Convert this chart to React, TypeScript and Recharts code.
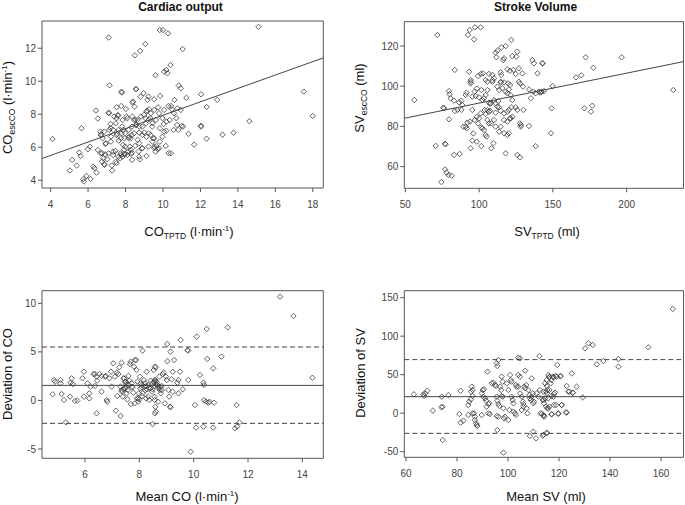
import React from 'react';
import { ScatterChart, Scatter, XAxis, YAxis, ReferenceLine, ReferenceArea } from 'recharts';

const FONT = '"Liberation Sans", Arial, Helvetica, sans-serif';
type Pt = [number, number];

// Cardiac output: [CO_TPTD, CO_esCCO]
const coPairs: Pt[] = [
  [4.1, 6.5], [7.1, 12.65], [9.06, 12.25], [8.78, 11.84], [8.5, 11.57], [9.83, 13.1], [10.0, 13.1], [10.27, 12.9],
  [11.05, 11.95], [15.1, 13.3], [7.15, 9.75], [9.6, 10.36], [10.4, 10.98], [10.18, 10.68], [10.06, 10.58], [10.24, 10.48],
  [10.84, 9.74], [10.95, 9.57], [7.78, 9.37], [7.8, 9.31], [8.55, 9.53], [8.57, 9.52], [8.96, 9.27], [8.8, 9.07],
  [9.22, 9.07], [9.85, 9.11], [9.53, 8.91], [10.61, 8.87], [8.37, 8.71], [9.17, 8.87], [6.42, 8.22], [6.52, 7.74],
  [5.65, 7.15], [11.25, 9.0], [12.03, 9.21], [12.89, 8.87], [12.33, 8.44], [17.52, 9.37], [18.0, 7.9], [11.07, 7.25],
  [12.03, 7.25], [12.03, 7.3], [11.36, 6.81], [11.66, 6.16], [12.33, 6.52], [13.18, 6.76], [13.77, 6.88], [14.61, 7.58],
  [5.03, 4.59], [5.15, 5.23], [5.39, 4.89], [5.53, 5.68], [5.6, 5.47], [5.74, 4.06], [5.78, 3.92], [5.92, 4.26],
  [5.99, 5.88], [6.1, 6.04], [6.13, 4.08], [6.27, 4.83], [6.34, 4.73], [6.45, 4.46], [6.52, 5.84], [6.66, 6.95],
  [6.7, 6.79], [6.75, 5.64], [6.88, 4.93], [6.93, 6.2], [7.02, 5.27], [7.1, 8.1], [7.2, 7.41], [7.2, 7.15],
  [7.34, 5.53], [7.29, 4.59], [7.46, 5.78], [7.52, 5.03], [7.55, 6.81], [7.59, 7.96], [7.6, 7.9], [7.64, 6.4],
  [7.7, 5.33], [7.77, 5.53], [7.82, 7.25], [7.87, 7.05], [7.94, 5.6], [7.96, 5.55], [7.87, 6.14], [8.05, 7.86],
  [8.17, 6.55], [8.23, 6.04], [8.3, 5.6], [8.35, 5.23], [8.4, 8.77], [8.48, 8.46], [8.53, 7.66], [8.58, 7.35],
  [8.65, 6.45], [8.7, 5.74], [8.76, 5.27], [8.88, 5.94], [9.0, 6.89], [9.06, 7.76], [9.15, 8.22], [9.24, 6.85],
  [9.33, 7.76], [9.42, 7.25], [9.47, 6.55], [9.54, 6.04], [9.6, 5.74], [9.72, 5.88], [9.83, 6.34], [10.3, 5.64],
  [10.04, 7.41], [10.18, 7.0], [10.43, 8.5], [10.57, 7.05], [10.75, 7.35], [10.71, 7.76],
  [7.11, 8.06], [7.52, 8.42], [7.77, 8.5], [8.02, 8.32], [7.39, 7.86], [7.52, 7.76], [7.48, 7.45], [7.84, 7.65],
  [8.1, 7.76], [8.37, 7.86], [8.46, 7.65], [8.64, 7.65], [8.82, 7.86], [8.99, 7.96], [9.12, 8.16], [9.26, 8.3],
  [9.35, 8.06], [9.53, 8.26], [9.74, 8.42], [10.06, 8.26], [10.29, 8.5], [10.47, 8.3], [10.59, 8.06], [10.77, 8.36],
  [10.95, 8.26], [9.79, 8.06], [9.97, 7.76], [10.18, 7.55], [10.36, 7.65], [9.62, 7.65], [9.44, 7.45], [9.26, 7.69],
  [9.08, 7.45], [8.9, 7.25], [8.73, 7.25], [8.55, 7.35], [8.34, 7.25], [8.16, 7.05], [7.98, 6.85], [7.8, 6.85],
  [7.62, 7.05], [7.34, 7.05], [7.13, 7.05], [6.86, 6.95], [6.68, 6.74], [6.77, 6.54], [6.95, 6.24], [7.22, 6.64],
  [7.52, 6.74], [7.75, 6.54], [7.93, 6.54], [8.19, 6.64], [8.34, 6.74], [8.28, 6.54], [8.46, 6.85], [8.73, 6.89],
  [8.9, 6.74], [9.12, 6.64], [9.35, 6.74], [9.53, 6.54], [9.44, 6.34], [9.65, 6.08], [9.22, 6.04], [8.9, 5.94],
  [8.73, 6.24], [8.51, 6.08], [8.28, 5.84], [8.16, 5.74], [7.98, 6.04], [7.93, 5.84], [7.75, 5.64], [7.62, 5.43],
  [7.48, 5.13], [7.84, 5.43], [8.1, 5.53], [8.34, 5.67], [8.73, 5.43], [9.12, 5.47], [9.53, 5.94], [9.79, 5.94],
  [10.15, 6.08], [10.42, 5.64], [10.82, 7.05], [11.0, 7.29], [10.06, 6.95], [9.83, 7.15], [9.97, 6.64], [7.22, 6.34],
  [7.34, 5.73], [7.09, 5.63], [6.91, 5.57], [6.68, 5.63], [6.81, 5.33], [6.74, 5.13], [6.86, 4.97], [7.27, 4.89],
];

// Stroke volume: [SV_TPTD, SV_esCCO]
const svPairs: Pt[] = [
  [71.7, 125.5], [92.5, 125.5], [93.6, 128], [97.2, 129.3], [101, 129.3], [96.5, 123.3], [56.1, 93.1], [76.2, 89],
  [75.8, 89.3], [79.6, 97.6], [80, 96], [80.7, 94], [83, 92.8], [79.6, 83.5], [83.5, 108.1], [70.6, 70.3],
  [76.9, 71.4], [77.3, 71.1], [76.9, 58.6], [78, 57], [79.2, 55.8], [81.4, 55.5], [74.4, 52.3], [83, 65.8],
  [86.8, 66.3], [89.3, 79.9], [91.6, 79], [93.2, 107.2], [94.3, 103.1], [94.3, 102.2], [94.3, 101.4], [91.4, 96.8],
  [90.9, 95.6], [88, 92.8], [86.4, 92], [85.3, 88.2], [83.5, 87.7], [88, 88.2], [95.4, 88.2], [97.7, 95.1],
  [100, 94.5], [102.2, 93.1], [103.3, 94], [97, 97.3], [98.4, 98.8], [101.5, 98.1], [99.3, 105.1], [101.1, 106.1],
  [102.6, 106.4], [104.4, 103.1], [105.6, 102.2], [106.7, 106.1], [109, 105.6], [110.1, 103.9], [111.2, 116.7], [112.4, 117.7],
  [111.7, 114.4], [114.6, 106.9], [115, 105.6], [116.9, 113.9], [116.4, 113], [118, 120], [121.8, 123], [115.1, 119.3],
  [125.9, 117.2], [125.2, 114.7], [122.5, 115], [119.1, 108.4], [120.9, 107.7], [123.2, 108.1], [124.8, 106.1], [127, 108.9],
  [129.3, 106.4], [116.9, 101.9], [119.6, 101.4], [120.9, 100.6], [114.6, 101.9], [114.8, 102.1], [112.4, 99.8], [113.5, 98.1],
  [115.7, 99], [118, 97.3], [119.1, 96.5], [120.2, 98.4], [121.4, 95.6], [122.5, 93.1], [127, 102.2], [127.7, 101.4],
  [129.7, 99.8], [133.8, 98.4], [136.7, 97.3], [138.3, 96.5], [140.6, 97.3], [142.2, 97.1], [135, 94], [137.2, 111.4],
  [136.1, 113], [139.5, 106.4], [142.8, 111.4], [138.3, 70.2], [107.8, 91.5], [105.6, 88.2], [106.7, 87.3], [107.4, 87.8],
  [103.8, 88.2], [104.4, 86.2], [110.1, 93.1], [111.2, 91.5], [113, 92.6], [114.6, 87.8], [116.9, 86.5], [119.1, 87.3],
  [120.2, 88.2], [121.8, 89.5], [116.9, 83.2], [119.1, 82.4], [120.9, 84], [114.6, 79.9], [113.5, 77.4], [116.9, 76.6],
  [119.1, 75.7], [120.2, 76.6], [111.2, 79.9], [110.1, 83.2], [108.3, 81.5], [101.1, 86.5], [100, 84], [99.3, 81.5],
  [101.5, 79.5], [102.2, 79], [98.4, 84.8], [97, 83.2], [96.1, 76.5], [95.4, 72.9], [94.3, 69.1], [98.4, 72.4],
  [101.5, 70.2], [103.3, 78.2], [104.4, 75.7], [105.1, 74.9], [105.6, 83.2], [106.7, 81.5], [90.9, 79.9], [108.3, 69.1],
  [109.6, 71.6], [118, 66.6], [125.9, 65.8], [127.7, 64.6], [128.2, 80.7], [128.2, 79.9], [127.7, 81.5], [133.8, 80.2],
  [130, 88.2], [125.9, 88.2], [124.8, 89.5], [122.5, 84.8], [121.4, 84], [109, 103], [109, 102.2], [104.4, 95.6],
  [105.6, 98.1], [106.7, 91.8], [107.4, 91.2], [112.4, 89.8], [113.5, 89.5], [111.2, 86.8], [93.8, 82.4], [92, 81.9],
  [88.6, 90.6], [95.4, 94.8], [143.1, 111.4], [172.2, 114.4], [196.6, 114.4], [177.4, 109.2], [169.3, 105.4], [165.7, 104.4],
  [149.8, 100.1], [141.3, 96.8], [142.4, 97.3], [144, 97.6], [231.6, 98.1], [149.2, 89], [171.3, 89], [176.7, 90.3],
  [175.8, 87.3], [148.7, 76.6],
];

// Bland-Altman, cardiac output: [mean CO, deviation]
const coBland: Pt[] = [
  [4.81, 0.63], [4.86, 2.1], [4.9, 1.93], [5.1, 2.1], [5.14, 0.66], [5.1, 1.76], [5.23, 0.04], [5.3, -2.26],
  [5.45, 0.39], [5.51, 2.28], [5.47, 1.83], [5.55, 1.69], [5.63, -0.06], [5.72, -0.02], [5.91, 2.28], [5.96, 2.96],
  [5.96, 0.39], [6.09, 1.76], [6.16, 0.21], [6.16, 0.73], [6.21, 1.42], [6.31, 2.72], [6.37, 2.72], [6.43, 2.45],
  [6.37, 1.49], [6.45, 2.04], [6.43, -1.33], [6.53, 2.72], [6.61, 2.52], [6.61, 0.9], [6.74, 2.45], [6.77, 2.52],
  [6.8, 0.04], [6.82, -0.13], [6.9, 2.28], [6.96, 2.96], [7.04, 3.82], [6.98, 1.42], [7.1, 2.45], [7.14, -1.06],
  [7.17, 2.86], [7.23, 2.72], [7.19, 0.46], [7.26, 3.41], [7.31, -1.6], [7.31, 1.42], [7.35, 1.07], [7.39, 0.39],
  [7.35, 3.89], [7.44, 2.28], [7.47, 1.93], [7.51, 1.42], [7.51, 1.69], [7.53, 0.73], [7.56, 0.11], [7.6, 2.52],
  [7.63, 2.04], [7.66, 3.75], [7.68, 3.99], [7.69, -0.37], [7.72, 1.76], [7.75, 1.35], [7.78, 0.8], [7.8, 3.48],
  [7.84, 4.16], [7.88, 4.16], [7.9, 3.13], [7.93, 1.93], [7.96, 0.21], [8.0, 0.11], [7.96, -0.13], [8.02, 2.45],
  [8.05, 1.76], [8.09, 1.35], [8.12, 0.73], [8.12, 5.13], [8.17, 2.1], [8.21, 1.76], [8.25, 1.49], [8.27, 2.96],
  [8.29, 1.14], [8.33, 0.39], [8.37, 0.04], [8.42, 2.04], [8.45, 1.59], [8.49, 1.14], [8.52, 1.42], [8.49, -2.43],
  [8.53, 3.13], [8.57, 3.48], [8.61, 3.41], [8.57, 2.1], [8.61, 1.93], [8.64, 1.83], [8.57, -1.33], [8.61, -1.16],
  [8.57, 0.04], [8.66, 1.59], [8.7, 1.42], [8.74, 2.45], [8.76, 1.07], [8.79, 0.73], [8.82, 1.49], [8.86, 2.72],
  [8.9, 2.86], [8.94, -0.3], [8.98, 2.45], [9.01, 2.1], [9.03, 4.03], [9.03, 5.81], [9.07, 1.07], [9.1, 0.39],
  [9.13, -0.64], [9.15, -0.71], [9.15, 5.02], [9.19, 2.17], [9.23, 2.96], [9.28, 4.16], [9.23, 0.9], [9.4, 1.83],
  [9.44, 2.1], [9.5, 2.96], [9.44, 0.73], [9.52, 6.22], [9.6, 1.14], [9.77, 5.19], [9.8, 5.13], [9.8, 2.1],
  [9.89, -5.28], [10.11, 6.57], [10.05, -0.47], [10.09, -2.8], [10.23, 2.62], [10.36, 1.83], [10.38, 1.59], [10.36, -2.7],
  [10.38, 0.04], [10.45, -0.13], [10.54, -0.23], [10.58, -0.13], [10.48, 7.36], [10.5, 4.27], [10.72, 3.31], [10.75, -0.23],
  [10.72, -2.8], [11.02, 4.51], [11.25, 7.53], [11.58, -0.47], [11.52, -2.87], [11.6, -2.7], [11.68, -2.26], [13.18, 10.69],
  [13.67, 8.7], [14.37, 2.34], [7.42, 2.27], [7.51, 1.93], [7.61, 1.59], [7.73, 1.41], [7.48, 1.24], [7.58, 1.07],
  [7.36, 0.9], [7.42, 1.14], [8.1, 1.59], [8.2, 1.41], [8.04, 1.24], [8.22, 1.07], [8.34, 1.59], [8.4, 1.24],
  [7.98, 0.73], [8.1, 0.45], [8.25, 0.21], [7.91, 0.21], [7.83, -0.3], [8.53, 1.93], [8.59, 2.1], [8.65, 1.59],
  [8.71, 1.24], [8.77, 1.41], [8.83, 1.07], [8.47, 0.9], [8.56, 0.38], [8.69, -0.13], [8.59, -0.65],
];

// Bland-Altman, stroke volume: [mean SV, deviation]
const svBland: Pt[] = [
  [63.1, 24.5], [66.8, 24.5], [67.1, 22.3], [67.5, 25.7], [68.4, 29.2], [70.5, 3.2], [74, 21.4], [74.3, 8.4],
  [73.9, 7.6], [74.4, -34.9], [76.6, 23.6], [80.9, -1.1], [81.4, 29.2], [81.4, -12.3], [82.5, -9.7], [84.4, 10.6],
  [84.8, 14.9], [85.4, 18], [85.8, 34.4], [86.1, 30.1], [85.5, 27.9], [84.4, -2.4], [86.1, -0.2], [86.7, -0.2],
  [87, -4.6], [87, -8.9], [87.5, -13.2], [87.7, -15.4], [88, -16.7], [86.1, 22.3], [89.7, 25.7], [90.1, 30.1],
  [90.6, 31], [90.3, 21.4], [91, 19.3], [91.4, 16.2], [89.7, -2.4], [91.6, 8.4], [92.3, 11.9], [92.7, 12.8],
  [91.9, 53.9], [92.3, -0.2], [92.9, -1.1], [93.6, 38.7], [94.3, 39.6], [94.9, 36.6], [95.3, 35.3], [95.6, 64.7],
  [95.8, 61.2], [96.2, 69], [95.6, 21.4], [95.8, 16.2], [96.2, 11.9], [96.6, 9.3], [95.6, -3.7], [96.2, -4.6],
  [95.8, -21.9], [96.9, 34.4], [97.3, 30.1], [97.5, 47.4], [97.9, 40.9], [97.5, 22.3], [97.9, 21.4], [98.2, 6.3],
  [98.8, -4.6], [98.4, -6.7], [98.2, -51.3], [99.5, 38.7], [100.1, 30.1], [100.1, -8.9], [100.5, 4.1], [100.8, 49.6],
  [101.1, 43.1], [101.4, 40.9], [101.4, 21.4], [101.8, 17.1], [102.1, 12.8], [102.1, 2], [102.7, -0.2], [103.1, -2.4],
  [103.1, 36.6], [103.4, 34.4], [104, 34.4], [104, 72.1], [104.7, 71.2], [104, 49.6], [104.7, 47.4], [104.7, 25.7],
  [105.4, 21.4], [105.8, 15], [106, 11.9], [106.3, 34.4], [106.7, 32.3], [107.1, 36.6], [106.7, 55.2], [105.4, 4.1],
  [106, 8.4], [107.3, 6.3], [107.6, -0.2], [108, 30.1], [108.4, 23.6], [108.6, 19.3], [108.9, 17.1], [109.3, 21.4],
  [109.7, 25.7], [109.9, 12.8], [110.2, 14.9], [109.3, 45.2], [108.6, -29.7], [109.9, -24], [111, -32.7], [111.2, 25.7],
  [111.9, 21.4], [112.5, 30.1], [112.3, 74.2], [112.8, -0.2], [113.9, -2.4], [114.1, -4.6], [113.9, -28.4], [115.2, -25.3],
  [114.1, 17.1], [114.5, 19.3], [114.9, 28.1], [115.2, 35.3], [115.4, 30.1], [115.8, 49.6], [116.2, 47.4], [115.8, 6.3],
  [116.2, 8.4], [116.7, 38.7], [117.1, 43.1], [117.5, 47.4], [117.8, 21.4], [117.1, -1.1], [118.4, 26.6], [118.8, 10.6],
  [119.1, 47.4], [119.3, 62.6], [119.7, -0.2], [120.4, 47.8], [121, 10.6], [123, 35.3], [124, 27.9], [125, 51.7],
  [125.4, 26.6], [122.7, 1.1], [126.9, 34.4], [129.3, 20.5], [130.2, 84.2], [131.5, 90.7], [133.2, 88.5], [134.8, 63.4],
  [137.4, 67.7], [143.3, 70.3], [143.3, 60.4], [155, 85.5], [164.6, 135.3], [114.5, 38.8], [115.2, 43.1], [116.2, 46.6],
  [117.8, 46.6], [118.7, 48.3], [120.7, 48.3], [113.9, 28], [115.2, 25.8], [116.2, 30.1], [118, 25], [117.1, 22.3],
  [113.6, 17.1], [114.1, 12.8], [114.9, 8.5], [115.4, 6.3], [115.8, 19.3], [118, 10.6], [121.05, 10.6], [123, 0.7],
  [119.7, -1], [117.1, -1.5], [114.1, -3.6], [113.2, -1], [115.2, -26.1], [113.6, -29.2], [123.7, 28], [125.4, 26.7],
];

// Regression lines (intercept, slope)
const coFit = { a: 3.88, b: 0.406 };
const svFit = { a: 76.7, b: 0.149 };
// Bland-Altman bias and limits of agreement
const coLimits = { mean: 1.55, upper: 5.5, lower: -2.36 };
const svLimits = { mean: 21.4, upper: 69.5, lower: -26.2 };

const coXTicks = [4, 6, 8, 10, 12, 14, 16, 18];
const coYTicks = [4, 6, 8, 10, 12];
const svXTicks = [50, 100, 150, 200];
const svYTicks = [60, 80, 100, 120];
const baCoXTicks = [6, 8, 10, 12, 14];
const baCoYTicks = [-5, 0, 5, 10];
const baSvXTicks = [60, 80, 100, 120, 140, 160];
const baSvYTicks = [-50, 0, 50, 100, 150];

const toObj = (a: Pt[]) => a.map(([x, y]) => ({ x, y }));

const Diamond = (props: any) => {
  const { cx, cy } = props;
  if (cx == null || cy == null) return null;
  const r = 2.7;
  return (
    <path
      d={`M${cx},${cy - r}L${cx + r},${cy}L${cx},${cy + r}L${cx - r},${cy}Z`}
      fill="none"
      stroke="#3c3c3c"
      strokeWidth={0.8}
    />
  );
};

const YW = 34;
const XH = 30;

type PanelProps = {
  left: number; top: number; width: number; height: number;
  plot: { x0: number; x1: number; y0: number; y1: number };
  xDomain: [number, number]; yDomain: [number, number];
  xTicks: number[]; yTicks: number[];
  data: Pt[];
  fit?: { a: number; b: number };
  limits?: { mean: number; upper: number; lower: number };
};

const tickStyle = { fontSize: 10, fill: '#444', fontFamily: FONT };

function Panel(p: PanelProps) {
  const margin = {
    left: p.plot.x0 - p.left - YW,
    top: p.plot.y0 - p.top,
    right: p.left + p.width - p.plot.x1,
    bottom: p.top + p.height - p.plot.y1 - XH,
  };
  const [xa, xb] = p.xDomain;
  const [ya, yb] = p.yDomain;
  return (
    <div style={{ position: 'absolute', left: p.left, top: p.top }}>
      <ScatterChart width={p.width} height={p.height} margin={margin}>
        <XAxis
          type="number"
          dataKey="x"
          domain={p.xDomain}
          ticks={p.xTicks}
          interval={0}
          allowDataOverflow
          axisLine={false}
          tickLine={{ stroke: '#555' }}
          tickSize={4}
          tickMargin={9}
          height={XH}
          tick={tickStyle}
        />
        <YAxis
          type="number"
          dataKey="y"
          domain={p.yDomain}
          ticks={p.yTicks}
          interval={0}
          allowDataOverflow
          axisLine={false}
          tickLine={{ stroke: '#555' }}
          tickSize={4}
          tickMargin={2}
          width={YW}
          tick={tickStyle}
        />
        <ReferenceArea x1={xa} x2={xb} y1={ya} y2={yb} fill="none" stroke="#555" strokeWidth={1} ifOverflow="visible" />
        {p.fit && (
          <ReferenceLine
            segment={[{ x: xa, y: p.fit.a + p.fit.b * xa }, { x: xb, y: p.fit.a + p.fit.b * xb }]}
            stroke="#444"
            strokeWidth={1}
            ifOverflow="visible"
          />
        )}
        {p.limits && <ReferenceLine y={p.limits.mean} stroke="#444" strokeWidth={1} />}
        {p.limits && <ReferenceLine y={p.limits.upper} stroke="#444" strokeWidth={1} strokeDasharray="5 3" />}
        {p.limits && <ReferenceLine y={p.limits.lower} stroke="#444" strokeWidth={1} strokeDasharray="5 3" />}
        <Scatter data={toObj(p.data)} shape={Diamond} isAnimationActive={false} />
      </ScatterChart>
    </div>
  );
}

export default function App() {
  const axisT = { fontSize: 13, fill: '#111', fontFamily: FONT } as any;
  return (
    <div style={{ position: 'absolute', left: 0, top: 0, width: 685, height: 505, background: '#fff', overflow: 'hidden' }}>
      <Panel left={0} top={0} width={345} height={250}
        plot={{ x0: 42, x1: 323.3, y0: 21, y1: 188 }}
        xDomain={[3.54, 18.56]} yDomain={[3.53, 13.65]}
        xTicks={coXTicks} yTicks={coYTicks} data={coPairs} fit={coFit} />
      <Panel left={345} top={0} width={340} height={250}
        plot={{ x0: 404.3, x1: 683.5, y0: 21.7, y1: 188.3 }}
        xDomain={[49.3, 238.5]} yDomain={[49.2, 132.1]}
        xTicks={svXTicks} yTicks={svYTicks} data={svPairs} fit={svFit} />
      <Panel left={0} top={250} width={345} height={255}
        plot={{ x0: 42, x1: 323.3, y0: 290.7, y1: 458.3 }}
        xDomain={[4.42, 14.77]} yDomain={[-5.96, 11.3]}
        xTicks={baCoXTicks} yTicks={baCoYTicks} data={coBland} limits={coLimits} />
      <Panel left={345} top={250} width={340} height={255}
        plot={{ x0: 404.3, x1: 683.5, y0: 290.7, y1: 457.3 }}
        xDomain={[59.33, 168.8]} yDomain={[-57.3, 159]}
        xTicks={baSvXTicks} yTicks={baSvYTicks} data={svBland} limits={svLimits} />
      <svg width={685} height={505} style={{ position: 'absolute', left: 0, top: 0, pointerEvents: 'none' }}>
        <text x={180.5} y={11} textAnchor="middle" fontSize={12} fontWeight="bold" fill="#111" fontFamily={FONT}>Cardiac output</text>
        <text x={535.5} y={11} textAnchor="middle" fontSize={12} fontWeight="bold" fill="#111" fontFamily={FONT}>Stroke Volume</text>

        <text x={189} y={236} textAnchor="middle" {...axisT}>
          CO<tspan fontSize={8.5} dy={3}>TPTD</tspan><tspan dy={-3}> (l·min</tspan><tspan fontSize={8} dy={-5}>-1</tspan><tspan dy={5}>)</tspan>
        </text>
        <text x={547} y={236} textAnchor="middle" {...axisT}>
          SV<tspan fontSize={8.5} dy={3}>TPTD</tspan><tspan dy={-3}> (ml)</tspan>
        </text>
        <text x={187} y={501} textAnchor="middle" {...axisT}>
          Mean CO (l·min<tspan fontSize={8} dy={-5}>-1</tspan><tspan dy={5}>)</tspan>
        </text>
        <text x={546} y={501} textAnchor="middle" {...axisT}>Mean SV (ml)</text>

        <text transform="translate(12,107.5) rotate(-90)" textAnchor="middle" {...axisT}>
          CO<tspan fontSize={8.5} dy={3}>escCO</tspan><tspan dy={-3}> (l·min</tspan><tspan fontSize={8} dy={-5}>-1</tspan><tspan dy={5}>)</tspan>
        </text>
        <text transform="translate(364,98) rotate(-90)" textAnchor="middle" {...axisT}>
          SV<tspan fontSize={8.5} dy={3}>escCO</tspan><tspan dy={-3}> (ml)</tspan>
        </text>
        <text transform="translate(11.5,374) rotate(-90)" textAnchor="middle" {...axisT}>Deviation of CO</text>
        <text transform="translate(365,373) rotate(-90)" textAnchor="middle" {...axisT}>Deviation of SV</text>
      </svg>
    </div>
  );
}
